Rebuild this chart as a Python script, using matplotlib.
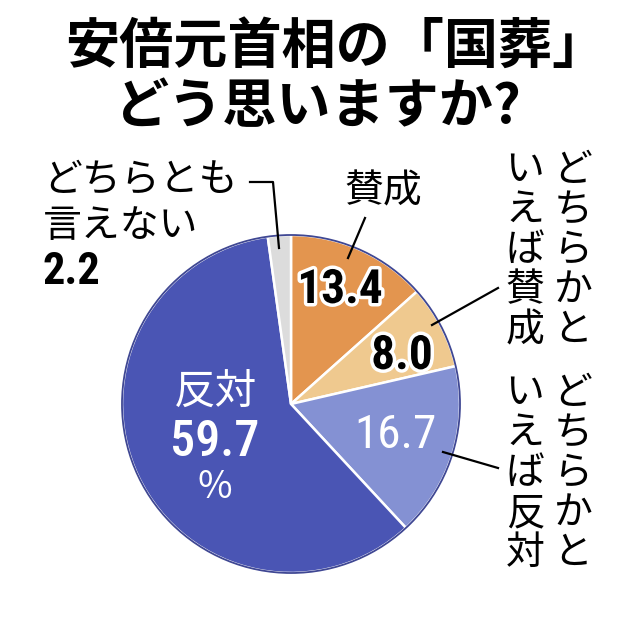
import matplotlib
matplotlib.use("Agg")
import matplotlib.pyplot as plt
import matplotlib.patheffects as pe
from matplotlib.patches import Circle
from matplotlib import font_manager

# data
labels = ["賛成", "どちらかといえば賛成", "どちらかといえば反対", "反対", "どちらとも言えない"]
values = [13.4, 8.0, 16.7, 59.7, 2.2]
colors = ["#e3954f", "#efc98f", "#8491d3", "#4a55b4", "#dcdcdc"]
title_lines = ["安倍元首相の「国葬」", "どう思いますか?"]

W, H = 640, 643
JP = ["Noto Sans CJK JP", "DejaVu Sans"]

names = {f.name for f in font_manager.fontManager.ttflist}
narrow = [n for n in ["Roboto Condensed", "Liberation Sans Narrow", "DejaVu Sans Condensed",
                      "Open Sans Condensed"] if n in names]
NUM = narrow + ["Liberation Sans", "DejaVu Sans"]

fig = plt.figure(figsize=(W / 100, H / 100), dpi=100)
ax = fig.add_axes([0, 0, 1, 1])


def Y(y):
    return H - y


cx, cy, r = 291, 404, 169
wedges, _ = ax.pie(values, colors=colors, startangle=90, counterclock=False,
                   center=(cx, Y(cy)), radius=r, frame=True,
                   wedgeprops=dict(edgecolor="white", linewidth=1.8))
ax.set_xlim(0, W)
ax.set_ylim(0, H)
ax.set_aspect("equal")
ax.axis("off")
ax.add_patch(Circle((cx, Y(cy)), r, fill=False, edgecolor="#3f4793", linewidth=1.3))

# title
ax.text(336, Y(47), title_lines[0], family=JP, fontsize=39, fontweight="bold",
        ha="center", va="center")
ax.text(318, Y(108), title_lines[1], family=JP, fontsize=39, fontweight="bold",
        ha="center", va="center")

outline = [pe.withStroke(linewidth=5, foreground="white")]
numkw = dict(family=NUM, fontstretch="condensed", ha="center", va="center")

# 賛成
ax.text(383, Y(191), labels[0], family=JP, fontsize=28, ha="center", va="center")
ax.text(340, Y(290), f"{values[0]:.1f}", fontsize=34, fontweight="bold",
        path_effects=outline, **numkw)
ax.plot([365, 348], [Y(218), Y(258)], color="black", lw=1.6)

# どちらかといえば賛成
ax.text(402, Y(356), f"{values[1]:.1f}", fontsize=34, fontweight="bold",
        path_effects=outline, **numkw)
ax.plot([498, 432], [Y(288), Y(325)], color="black", lw=1.6)

# どちらかといえば反対
ax.text(395, Y(435), f"{values[2]:.1f}", fontsize=34, color="white", **numkw)
ax.plot([498, 443], [Y(468), Y(452)], color="black", lw=1.6)

# vertical labels
for top, text in [(170, labels[1]), (393, labels[2])]:
    col_right, col_left = text[:5], text[5:]
    for i, ch in enumerate(col_right):
        ax.text(573, Y(top + 40 * i), ch, family=JP, fontsize=28,
                ha="center", va="center")
    for i, ch in enumerate(col_left):
        ax.text(525, Y(top + 40 * i), ch, family=JP, fontsize=28,
                ha="center", va="center")

# 反対
ax.text(216, Y(392), labels[3], family=JP, fontsize=30, ha="center", va="center",
        color="white")
ax.text(215, Y(443), f"{values[3]:.1f}", fontsize=36, fontweight="medium",
        color="white", **numkw)
ax.text(215, Y(488), "%", family=JP, fontsize=27, ha="center", va="center",
        color="white")

# どちらとも言えない
ax.text(43, Y(180), labels[4][:5], family=JP, fontsize=28, ha="left", va="center")
ax.text(43, Y(226), labels[4][5:], family=JP, fontsize=28, ha="left", va="center")
ax.text(43, Y(272), f"{values[4]:.1f}", fontsize=32, fontweight="bold",
        **dict(numkw, ha="left"))
ax.plot([250, 273, 279], [Y(182), Y(182), Y(248)], color="black", lw=1.6)

fig.savefig("out.png", dpi=100, facecolor="white")
